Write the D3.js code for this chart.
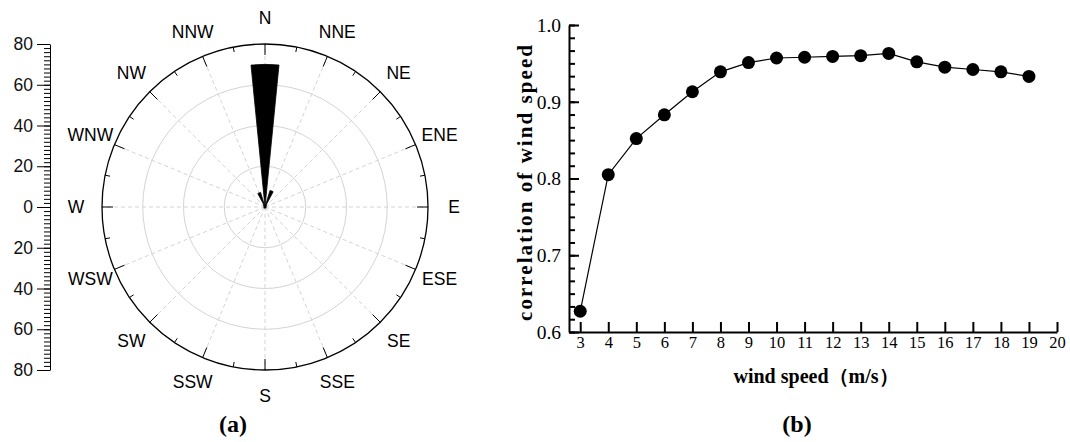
<!DOCTYPE html>
<html>
<head>
<meta charset="utf-8">
<script src="https://cdn.jsdelivr.net/npm/d3@7"></script>
<style>
  body { margin: 0; background: #fff; }
  svg { display: block; }
</style>
</head>
<body>
<svg width="1070" height="442"></svg>
<script>
// wind rose (a)
const directions = ["N", "NNE", "NE", "ENE", "E", "ESE", "SE", "SSE",
                    "S", "SSW", "SW", "WSW", "W", "WNW", "NW", "NNW"];
const frequency = [70, 8.5, 1, 0.6, 0.6, 0.6, 0.6, 0.6, 0.6, 0.6, 0.6, 0.6, 0.6, 0.6, 1, 7.5];
const ringValues = [20, 40, 60];
const sideTicks = [80, 60, 40, 20, 0, -20, -40, -60, -80];

// correlation curve (b)
const windSpeed = [3, 4, 5, 6, 7, 8, 9, 10, 11, 12, 13, 14, 15, 16, 17, 18, 19];
const correlation = [0.627, 0.805, 0.852, 0.883, 0.913, 0.939, 0.951, 0.957, 0.958,
                     0.959, 0.960, 0.963, 0.952, 0.945, 0.942, 0.939, 0.933];
const xTicks = [3, 4, 5, 6, 7, 8, 9, 10, 11, 12, 13, 14, 15, 16, 17, 18, 19, 20];
const yTicks = [0.6, 0.7, 0.8, 0.9, 1.0];

const svg = d3.select("svg");
const sans = "'Liberation Sans', Arial, sans-serif";
const serif = "'Liberation Serif', 'Times New Roman', serif";

// ---------- panel a ----------
const cx = 265, cy = 207, R = 163;
const r = d3.scaleLinear().domain([0, 80]).range([0, R]);
const step = 360 / directions.length;
const rad = (deg) => deg * Math.PI / 180;

const rose = svg.append("g").attr("transform", `translate(${cx}, ${cy})`);

rose.selectAll("circle.ring").data(ringValues).enter().append("circle")
    .attr("class", "ring")
    .attr("r", d => r(d))
    .attr("fill", "none")
    .attr("stroke", "#d4d4d4")
    .attr("stroke-width", 1);

rose.selectAll("line.spoke").data(directions).enter().append("line")
    .attr("class", "spoke")
    .attr("x1", 0).attr("y1", 0)
    .attr("x2", (d, i) => R * Math.sin(rad(i * step)))
    .attr("y2", (d, i) => -R * Math.cos(rad(i * step)))
    .attr("stroke", "#d4d4d4")
    .attr("stroke-width", 1)
    .attr("stroke-dasharray", "4,3");

const arc = d3.arc().innerRadius(0);
rose.selectAll("path.bar").data(frequency).enter().append("path")
    .attr("class", "bar")
    .attr("d", (d, i) => arc({
        outerRadius: r(d),
        startAngle: rad(i * step - step / 4),
        endAngle: rad(i * step + step / 4)
    }))
    .attr("fill", "#000")
    .attr("stroke", "#000")
    .attr("stroke-width", 0.8);

rose.append("circle")
    .attr("r", R)
    .attr("fill", "none")
    .attr("stroke", "#000")
    .attr("stroke-width", 1.3);

// ticks on the outer circle, pointing inwards
const ringTicks = d3.range(0, 32);
rose.selectAll("line.rtick").data(ringTicks).enter().append("line")
    .attr("class", "rtick")
    .attr("x1", d => R * Math.sin(rad(d * step / 2)))
    .attr("y1", d => -R * Math.cos(rad(d * step / 2)))
    .attr("x2", d => (R - (d % 2 === 0 ? 11 : 5)) * Math.sin(rad(d * step / 2)))
    .attr("y2", d => -(R - (d % 2 === 0 ? 11 : 5)) * Math.cos(rad(d * step / 2)))
    .attr("stroke", "#000")
    .attr("stroke-width", 1);

rose.selectAll("text.dir").data(directions).enter().append("text")
    .attr("class", "dir")
    .attr("x", (d, i) => 189 * Math.sin(rad(i * step)))
    .attr("y", (d, i) => -189 * Math.cos(rad(i * step)))
    .attr("text-anchor", "middle")
    .attr("dominant-baseline", "central")
    .style("font-family", sans)
    .style("font-size", "17.5px")
    .text(d => d);

// vertical scale on the left
const side = d3.scaleLinear().domain([-80, 80]).range([cy + R, cy - R]);
svg.append("g")
    .attr("transform", "translate(50, 0)")
    .call(d3.axisLeft(side).tickValues(d3.range(-80, 81, 2)).tickSize(6).tickFormat(""))
    .call(g => g.select(".domain").remove());
svg.append("g")
    .attr("transform", "translate(50, 0)")
    .call(d3.axisLeft(side).tickValues(sideTicks).tickSize(13).tickPadding(4)
        .tickSizeOuter(0).tickFormat(d => Math.abs(d)))
    .call(g => g.selectAll("text").style("font-family", sans).style("font-size", "17.5px").attr("fill", "#111"));

svg.append("text")
    .attr("x", 233).attr("y", 432)
    .attr("text-anchor", "middle")
    .style("font-family", serif)
    .style("font-weight", "bold")
    .style("font-size", "24px")
    .text("(a)");

// ---------- panel b ----------
const x = d3.scaleLinear().domain([2.6, 20]).range([569, 1057]);
const y = d3.scaleLinear().domain([0.6, 1.0]).range([332, 25]);

svg.append("g")
    .attr("transform", "translate(0, 332)")
    .call(d3.axisBottom(x).tickValues(xTicks).tickSizeInner(-10).tickSizeOuter(0).tickPadding(4))
    .call(g => g.select(".domain").attr("stroke-width", 2))
    .call(g => g.selectAll(".tick line").attr("stroke-width", 2))
    .call(g => g.selectAll("text").style("font-family", serif).style("font-size", "16.5px"));

svg.append("g")
    .attr("transform", "translate(569, 0)")
    .call(d3.axisLeft(y).tickValues(d3.range(0, 25).map(i => 0.6 + i * 0.1 / 6)).tickSize(-6).tickFormat(""))
    .call(g => g.select(".domain").remove())
    .call(g => g.selectAll(".tick line").attr("stroke-width", 2));

svg.append("g")
    .attr("transform", "translate(569, 0)")
    .call(d3.axisLeft(y).tickValues(yTicks).tickSizeInner(-10).tickSizeOuter(0).tickPadding(8)
        .tickFormat(d3.format(".1f")))
    .call(g => g.select(".domain").attr("stroke-width", 2))
    .call(g => g.selectAll(".tick line").attr("stroke-width", 2))
    .call(g => g.selectAll("text").style("font-family", serif).style("font-size", "19.5px"));

const line = d3.line().x(d => x(d[0])).y(d => y(d[1]));
const points = windSpeed.map((s, i) => [s, correlation[i]]);

svg.append("path")
    .datum(points)
    .attr("d", line)
    .attr("fill", "none")
    .attr("stroke", "#000")
    .attr("stroke-width", 1.2);

svg.selectAll("circle.pt").data(points).enter().append("circle")
    .attr("class", "pt")
    .attr("cx", d => x(d[0]))
    .attr("cy", d => y(d[1]))
    .attr("r", 6.5)
    .attr("fill", "#000");

svg.append("text")
    .attr("transform", "translate(532, 183) rotate(-90)")
    .attr("text-anchor", "middle")
    .style("font-family", serif)
    .style("font-weight", "bold")
    .style("font-size", "21px")
    .attr("textLength", 276)
    .text("correlation of wind speed");

svg.append("text")
    .attr("x", 816).attr("y", 383)
    .attr("text-anchor", "middle")
    .style("font-family", serif)
    .style("font-weight", "bold")
    .style("font-size", "20px")
    .text("wind speed（m/s）");

svg.append("text")
    .attr("x", 797).attr("y", 432)
    .attr("text-anchor", "middle")
    .style("font-family", serif)
    .style("font-weight", "bold")
    .style("font-size", "24px")
    .text("(b)");
</script>
</body>
</html>
